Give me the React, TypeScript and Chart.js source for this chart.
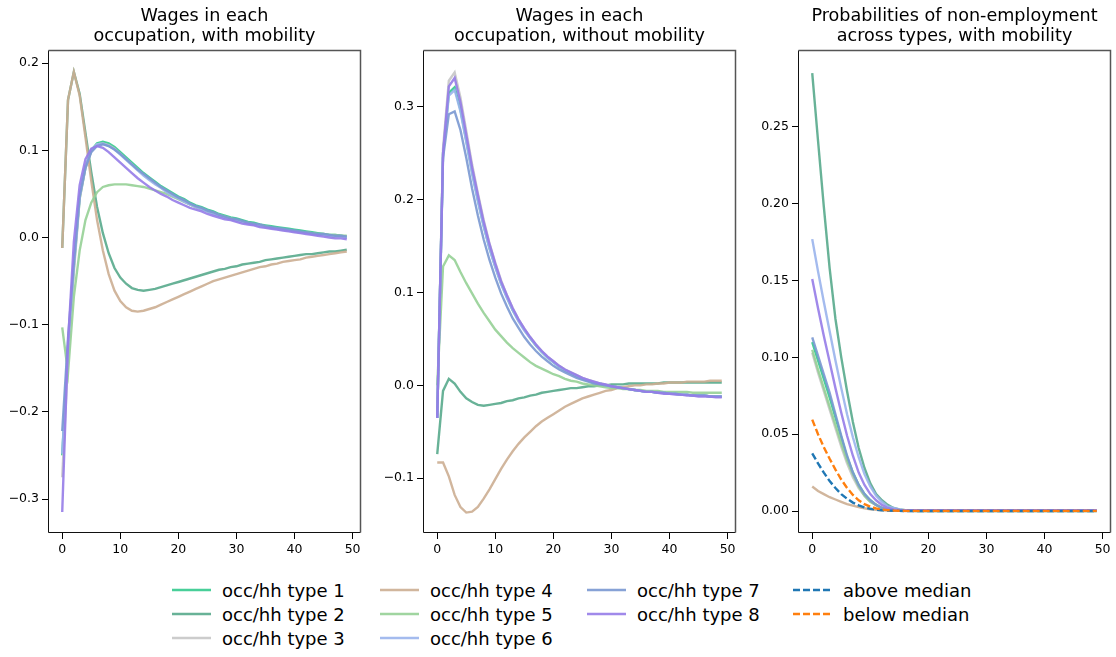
import React, { useEffect, useRef } from 'react';
import { Chart, registerables } from 'chart.js';

Chart.register(...registerables);

const FONT = "'DejaVu Sans', 'Liberation Sans', sans-serif";

const STEPS = [
  0, 1, 2, 3, 4, 5, 6, 7, 8, 9,
  10, 11, 12, 13, 14, 15, 16, 17, 18, 19,
  20, 21, 22, 23, 24, 25, 26, 27, 28, 29,
  30, 31, 32, 33, 34, 35, 36, 37, 38, 39,
  40, 41, 42, 43, 44, 45, 46, 47, 48, 49,
];

const X_TICKS = [0, 10, 20, 30, 40, 50];
const Y_TICKS_1 = [-0.3, -0.2, -0.1, 0.0, 0.1, 0.2];
const Y_TICKS_2 = [-0.1, 0.0, 0.1, 0.2, 0.3];
const Y_TICKS_3 = [0.0, 0.05, 0.1, 0.15, 0.2, 0.25];

const TITLE_1 = ['Wages in each', 'occupation, with mobility'];
const TITLE_2 = ['Wages in each', 'occupation, without mobility'];
const TITLE_3 = ['Probabilities of non-employment', 'across types, with mobility'];

const TYPE_LABELS = [
  'occ/hh type 1', 'occ/hh type 2', 'occ/hh type 3', 'occ/hh type 4',
  'occ/hh type 5', 'occ/hh type 6', 'occ/hh type 7', 'occ/hh type 8',
];
const MEDIAN_LABELS = ['above median', 'below median'];

const TYPE_COLORS = [
  'rgba(52,202,142,0.9)',
  'rgba(88,170,140,0.9)',
  'rgba(198,198,198,0.9)',
  'rgba(204,174,146,0.9)',
  'rgba(150,208,150,0.9)',
  'rgba(154,180,236,0.9)',
  'rgba(122,152,210,0.9)',
  'rgba(150,124,232,0.9)',
];
const MEDIAN_COLORS = ['#1f77b4', '#ff7f0e'];

// ---------- Panel 1: wages, with mobility ----------
const p1_t1 = [
  -0.250, -0.125, -0.035, 0.045, 0.080, 0.100, 0.108, 0.110, 0.108, 0.104,
  0.098, 0.092, 0.086, 0.080, 0.074, 0.069, 0.064, 0.059, 0.055, 0.051,
  0.047, 0.044, 0.040, 0.037, 0.035, 0.032, 0.030, 0.027, 0.025, 0.023,
  0.022, 0.020, 0.018, 0.017, 0.015, 0.014, 0.013, 0.012, 0.011, 0.010,
  0.009, 0.008, 0.007, 0.006, 0.005, 0.004, 0.003, 0.003, 0.002, 0.001,
];
const p1_t2 = [
  -0.012, 0.158, 0.190, 0.165, 0.120, 0.075, 0.035, 0.005, -0.018, -0.035,
  -0.046, -0.053, -0.058, -0.060, -0.061, -0.060, -0.059, -0.057, -0.055, -0.053,
  -0.051, -0.049, -0.047, -0.045, -0.043, -0.041, -0.039, -0.037, -0.036, -0.034,
  -0.033, -0.031, -0.030, -0.029, -0.028, -0.026, -0.025, -0.024, -0.023, -0.022,
  -0.021, -0.020, -0.019, -0.019, -0.018, -0.017, -0.016, -0.016, -0.015, -0.014,
];
const p1_t3 = [
  -0.275, -0.140, -0.040, 0.044, 0.080, 0.099, 0.107, 0.108, 0.106, 0.102,
  0.096, 0.090, 0.084, 0.078, 0.072, 0.067, 0.062, 0.057, 0.053, 0.049,
  0.045, 0.042, 0.038, 0.035, 0.033, 0.030, 0.028, 0.025, 0.023, 0.021,
  0.020, 0.018, 0.016, 0.015, 0.014, 0.012, 0.011, 0.010, 0.009, 0.008,
  0.007, 0.006, 0.005, 0.004, 0.003, 0.003, 0.002, 0.001, 0.001, 0.000,
];
const p1_t4 = [
  -0.012, 0.158, 0.190, 0.163, 0.115, 0.065, 0.020, -0.015, -0.042, -0.061,
  -0.073, -0.080, -0.084, -0.085, -0.084, -0.082, -0.080, -0.077, -0.074, -0.071,
  -0.068, -0.065, -0.062, -0.059, -0.056, -0.053, -0.050, -0.048, -0.046, -0.044,
  -0.042, -0.040, -0.038, -0.036, -0.034, -0.033, -0.031, -0.030, -0.028, -0.027,
  -0.026, -0.025, -0.023, -0.022, -0.021, -0.020, -0.019, -0.018, -0.017, -0.016,
];
const p1_t5 = [
  -0.103, -0.155, -0.068, -0.015, 0.020, 0.040, 0.052, 0.058, 0.060, 0.061,
  0.061, 0.061, 0.060, 0.059, 0.058, 0.056, 0.054, 0.052, 0.050, 0.047,
  0.044, 0.041, 0.038, 0.035, 0.033, 0.030, 0.028, 0.026, 0.024, 0.022,
  0.020, 0.018, 0.017, 0.015, 0.014, 0.013, 0.011, 0.010, 0.009, 0.008,
  0.007, 0.006, 0.006, 0.005, 0.004, 0.004, 0.003, 0.003, 0.002, 0.002,
];
const p1_t6 = [
  -0.248, -0.125, -0.032, 0.048, 0.082, 0.100, 0.107, 0.108, 0.105, 0.101,
  0.095, 0.089, 0.083, 0.077, 0.071, 0.066, 0.061, 0.057, 0.052, 0.048,
  0.045, 0.041, 0.038, 0.035, 0.032, 0.030, 0.027, 0.025, 0.023, 0.021,
  0.019, 0.018, 0.016, 0.015, 0.013, 0.012, 0.011, 0.010, 0.009, 0.008,
  0.007, 0.006, 0.005, 0.004, 0.003, 0.003, 0.002, 0.001, 0.001, 0.000,
];
const p1_t7 = [
  -0.222, -0.115, -0.030, 0.047, 0.080, 0.098, 0.105, 0.107, 0.105, 0.101,
  0.096, 0.090, 0.084, 0.078, 0.073, 0.068, 0.063, 0.058, 0.054, 0.050,
  0.046, 0.043, 0.039, 0.036, 0.034, 0.031, 0.029, 0.026, 0.024, 0.022,
  0.021, 0.019, 0.017, 0.016, 0.015, 0.013, 0.012, 0.011, 0.010, 0.009,
  0.008, 0.007, 0.006, 0.005, 0.004, 0.004, 0.003, 0.002, 0.002, 0.001,
];
const p1_t8 = [
  -0.315, -0.120, -0.005, 0.060, 0.090, 0.102, 0.105, 0.103, 0.098, 0.092,
  0.086, 0.080, 0.074, 0.068, 0.063, 0.058, 0.054, 0.050, 0.047, 0.043,
  0.040, 0.037, 0.034, 0.032, 0.030, 0.027, 0.025, 0.023, 0.021, 0.020,
  0.018, 0.016, 0.015, 0.014, 0.012, 0.011, 0.010, 0.009, 0.008, 0.007,
  0.006, 0.005, 0.004, 0.003, 0.002, 0.001, 0.000, -0.001, -0.001, -0.002,
];

// ---------- Panel 2: wages, without mobility ----------
const p2_t1 = [
  -0.035, 0.250, 0.315, 0.321, 0.297, 0.264, 0.230, 0.200, 0.172, 0.148,
  0.128, 0.110, 0.095, 0.081, 0.070, 0.060, 0.051, 0.043, 0.036, 0.030,
  0.025, 0.020, 0.016, 0.013, 0.010, 0.007, 0.005, 0.003, 0.002, 0.000,
  -0.001, -0.002, -0.003, -0.004, -0.005, -0.006, -0.007, -0.007, -0.008, -0.008,
  -0.009, -0.009, -0.010, -0.010, -0.011, -0.011, -0.011, -0.012, -0.012, -0.012,
];
const p2_t2 = [
  -0.074, -0.006, 0.007, 0.002, -0.007, -0.014, -0.018, -0.021, -0.022, -0.021,
  -0.020, -0.019, -0.017, -0.016, -0.014, -0.013, -0.011, -0.010, -0.008, -0.007,
  -0.006, -0.005, -0.004, -0.003, -0.003, -0.002, -0.001, -0.001, 0.000, 0.000,
  0.001, 0.001, 0.001, 0.002, 0.002, 0.002, 0.002, 0.002, 0.002, 0.003,
  0.003, 0.003, 0.003, 0.003, 0.003, 0.003, 0.003, 0.003, 0.003, 0.003,
];
const p2_t3 = [
  -0.035, 0.255, 0.328, 0.337, 0.310, 0.274, 0.238, 0.207, 0.178, 0.153,
  0.132, 0.113, 0.097, 0.083, 0.071, 0.061, 0.052, 0.044, 0.037, 0.031,
  0.026, 0.021, 0.017, 0.014, 0.011, 0.008, 0.006, 0.004, 0.002, 0.001,
  -0.001, -0.002, -0.003, -0.004, -0.005, -0.006, -0.007, -0.007, -0.008, -0.008,
  -0.009, -0.009, -0.010, -0.010, -0.011, -0.011, -0.011, -0.012, -0.012, -0.012,
];
const p2_t4 = [
  -0.083, -0.083, -0.098, -0.118, -0.131, -0.137, -0.136, -0.131, -0.122, -0.112,
  -0.101, -0.090, -0.080, -0.071, -0.063, -0.056, -0.050, -0.044, -0.039, -0.035,
  -0.031, -0.027, -0.023, -0.020, -0.017, -0.014, -0.012, -0.010, -0.008, -0.006,
  -0.005, -0.003, -0.002, -0.001, 0.000, 0.000, 0.001, 0.001, 0.002, 0.002,
  0.003, 0.003, 0.003, 0.004, 0.004, 0.004, 0.004, 0.005, 0.005, 0.005,
];
const p2_t5 = [
  0.000, 0.128, 0.140, 0.135, 0.122, 0.110, 0.099, 0.088, 0.078, 0.069,
  0.060, 0.053, 0.046, 0.040, 0.035, 0.030, 0.025, 0.021, 0.018, 0.015,
  0.012, 0.010, 0.007, 0.005, 0.004, 0.002, 0.001, 0.000, -0.001, -0.002,
  -0.003, -0.003, -0.004, -0.004, -0.005, -0.005, -0.006, -0.006, -0.006, -0.007,
  -0.007, -0.007, -0.007, -0.007, -0.008, -0.008, -0.008, -0.008, -0.008, -0.008,
];
const p2_t6 = [
  -0.035, 0.248, 0.312, 0.318, 0.295, 0.262, 0.228, 0.198, 0.171, 0.147,
  0.127, 0.109, 0.094, 0.081, 0.069, 0.059, 0.051, 0.043, 0.036, 0.030,
  0.025, 0.020, 0.016, 0.013, 0.010, 0.007, 0.005, 0.003, 0.002, 0.000,
  -0.001, -0.002, -0.003, -0.004, -0.005, -0.006, -0.007, -0.007, -0.008, -0.008,
  -0.009, -0.009, -0.010, -0.010, -0.011, -0.011, -0.011, -0.012, -0.012, -0.012,
];
const p2_t7 = [
  -0.035, 0.245, 0.292, 0.295, 0.275, 0.245, 0.212, 0.183, 0.157, 0.135,
  0.116, 0.099, 0.085, 0.072, 0.062, 0.052, 0.044, 0.037, 0.031, 0.026,
  0.021, 0.017, 0.014, 0.011, 0.008, 0.006, 0.004, 0.002, 0.001, 0.000,
  -0.001, -0.002, -0.003, -0.004, -0.005, -0.006, -0.007, -0.007, -0.008, -0.008,
  -0.009, -0.009, -0.010, -0.010, -0.011, -0.011, -0.011, -0.012, -0.012, -0.012,
];
const p2_t8 = [
  -0.035, 0.250, 0.322, 0.331, 0.305, 0.270, 0.235, 0.205, 0.176, 0.152,
  0.131, 0.112, 0.097, 0.083, 0.071, 0.061, 0.052, 0.044, 0.037, 0.031,
  0.026, 0.021, 0.017, 0.014, 0.011, 0.008, 0.006, 0.004, 0.002, 0.001,
  -0.001, -0.002, -0.003, -0.004, -0.005, -0.006, -0.007, -0.007, -0.008, -0.009,
  -0.009, -0.010, -0.010, -0.011, -0.011, -0.012, -0.012, -0.012, -0.013, -0.013,
];

// ---------- Panel 3: probabilities of non-employment ----------
const p3_t1 = [
  0.110, 0.098, 0.086, 0.074, 0.061, 0.048, 0.035, 0.025, 0.017, 0.011,
  0.007, 0.004, 0.002, 0.001, 0.001, 0.0005, 0.0003, 0.0002, 0.0001, 0.0001,
  0.0001, 0.0001, 0.0001, 0.0001, 0.0001, 0.0001, 0.0001, 0.0001, 0.0001, 0.0001,
  0.0001, 0.0001, 0.0001, 0.0001, 0.0001, 0.0001, 0.0001, 0.0001, 0.0001, 0.0001,
  0.0001, 0.0001, 0.0001, 0.0001, 0.0001, 0.0001, 0.0001, 0.0001, 0.0001, 0.0001,
];
const p3_t2 = [
  0.285, 0.241, 0.198, 0.158, 0.125, 0.100, 0.078, 0.058, 0.041, 0.028,
  0.018, 0.011, 0.007, 0.004, 0.002, 0.001, 0.0005, 0.0003, 0.0002, 0.0001,
  0.0001, 0.0001, 0.0001, 0.0001, 0.0001, 0.0001, 0.0001, 0.0001, 0.0001, 0.0001,
  0.0001, 0.0001, 0.0001, 0.0001, 0.0001, 0.0001, 0.0001, 0.0001, 0.0001, 0.0001,
  0.0001, 0.0001, 0.0001, 0.0001, 0.0001, 0.0001, 0.0001, 0.0001, 0.0001, 0.0001,
];
const p3_t3 = [
  0.103, 0.090, 0.078, 0.066, 0.054, 0.042, 0.031, 0.022, 0.015, 0.010,
  0.006, 0.004, 0.002, 0.001, 0.0005, 0.0003, 0.0002, 0.0001, 0.0, 0.0,
  0.0, 0.0, 0.0, 0.0, 0.0, 0.0, 0.0, 0.0, 0.0, 0.0,
  0.0, 0.0, 0.0, 0.0, 0.0, 0.0, 0.0, 0.0, 0.0, 0.0,
  0.0, 0.0, 0.0, 0.0, 0.0, 0.0, 0.0, 0.0, 0.0, 0.0,
];
const p3_t4 = [
  0.016, 0.013, 0.011, 0.009, 0.0075, 0.006, 0.0045, 0.0035, 0.0025, 0.0018,
  0.0012, 0.0008, 0.0005, 0.0003, 0.0002, 0.0001, 0.0, 0.0, 0.0, 0.0,
  0.0, 0.0, 0.0, 0.0, 0.0, 0.0, 0.0, 0.0, 0.0, 0.0,
  0.0, 0.0, 0.0, 0.0, 0.0, 0.0, 0.0, 0.0, 0.0, 0.0,
  0.0, 0.0, 0.0, 0.0, 0.0, 0.0, 0.0, 0.0, 0.0, 0.0,
];
const p3_t5 = [
  0.105, 0.092, 0.080, 0.068, 0.056, 0.044, 0.033, 0.024, 0.016, 0.010,
  0.006, 0.004, 0.002, 0.001, 0.0005, 0.0003, 0.0002, 0.0001, 0.0, 0.0,
  0.0, 0.0, 0.0, 0.0, 0.0, 0.0, 0.0, 0.0, 0.0, 0.0,
  0.0, 0.0, 0.0, 0.0, 0.0, 0.0, 0.0, 0.0, 0.0, 0.0,
  0.0, 0.0, 0.0, 0.0, 0.0, 0.0, 0.0, 0.0, 0.0, 0.0,
];
const p3_t6 = [
  0.177, 0.156, 0.136, 0.117, 0.098, 0.080, 0.063, 0.048, 0.035, 0.024,
  0.016, 0.010, 0.006, 0.003, 0.002, 0.001, 0.0006, 0.0005, 0.0004, 0.0004,
  0.0004, 0.0004, 0.0004, 0.0004, 0.0004, 0.0004, 0.0004, 0.0004, 0.0004, 0.0004,
  0.0004, 0.0004, 0.0004, 0.0004, 0.0004, 0.0004, 0.0004, 0.0004, 0.0004, 0.0004,
  0.0004, 0.0004, 0.0004, 0.0004, 0.0004, 0.0004, 0.0004, 0.0004, 0.0004, 0.0004,
];
const p3_t7 = [
  0.113, 0.101, 0.089, 0.077, 0.063, 0.049, 0.036, 0.025, 0.017, 0.011,
  0.007, 0.004, 0.002, 0.001, 0.0005, 0.0003, 0.0002, 0.0002, 0.0002, 0.0002,
  0.0002, 0.0002, 0.0002, 0.0002, 0.0002, 0.0002, 0.0002, 0.0002, 0.0002, 0.0002,
  0.0002, 0.0002, 0.0002, 0.0002, 0.0002, 0.0002, 0.0002, 0.0002, 0.0002, 0.0002,
  0.0002, 0.0002, 0.0002, 0.0002, 0.0002, 0.0002, 0.0002, 0.0002, 0.0002, 0.0002,
];
const p3_t8 = [
  0.151, 0.132, 0.114, 0.097, 0.080, 0.064, 0.049, 0.036, 0.025, 0.017,
  0.011, 0.007, 0.004, 0.002, 0.001, 0.0007, 0.0005, 0.0005, 0.0005, 0.0005,
  0.0005, 0.0005, 0.0005, 0.0005, 0.0005, 0.0005, 0.0005, 0.0005, 0.0005, 0.0005,
  0.0005, 0.0005, 0.0005, 0.0005, 0.0005, 0.0005, 0.0005, 0.0005, 0.0005, 0.0005,
  0.0005, 0.0005, 0.0005, 0.0005, 0.0005, 0.0005, 0.0005, 0.0005, 0.0005, 0.0005,
];
const p3_above = [
  0.0375, 0.031, 0.025, 0.0195, 0.015, 0.011, 0.008, 0.0055, 0.0037, 0.0024,
  0.0015, 0.0009, 0.0005, 0.0003, 0.0002, 0.0001, 0.0, 0.0, 0.0, 0.0,
  0.0, 0.0, 0.0, 0.0, 0.0, 0.0, 0.0, 0.0, 0.0, 0.0,
  0.0, 0.0, 0.0, 0.0, 0.0, 0.0, 0.0, 0.0, 0.0, 0.0,
  0.0, 0.0, 0.0, 0.0, 0.0, 0.0, 0.0, 0.0, 0.0, 0.0,
];
const p3_below = [
  0.0595, 0.050, 0.0415, 0.034, 0.027, 0.0205, 0.015, 0.0105, 0.007, 0.0045,
  0.0028, 0.0017, 0.001, 0.0006, 0.0003, 0.0002, 0.0001, 0.0001, 0.0001, 0.0001,
  0.0001, 0.0001, 0.0001, 0.0001, 0.0001, 0.0001, 0.0001, 0.0001, 0.0001, 0.0001,
  0.0001, 0.0001, 0.0001, 0.0001, 0.0001, 0.0001, 0.0001, 0.0001, 0.0001, 0.0001,
  0.0001, 0.0001, 0.0001, 0.0001, 0.0001, 0.0001, 0.0001, 0.0001, 0.0001, 0.0001,
];

type SeriesDef = { label: string; values: number[]; color: string; dashed?: boolean };

const typeSeries = (arrs: number[][]): SeriesDef[] =>
  arrs.map((values, i) => ({ label: TYPE_LABELS[i], values, color: TYPE_COLORS[i] }));

const PANEL_1 = typeSeries([p1_t1, p1_t2, p1_t3, p1_t4, p1_t5, p1_t6, p1_t7, p1_t8]);
const PANEL_2 = typeSeries([p2_t1, p2_t2, p2_t3, p2_t4, p2_t5, p2_t6, p2_t7, p2_t8]);
const PANEL_3: SeriesDef[] = [
  ...typeSeries([p3_t1, p3_t2, p3_t3, p3_t4, p3_t5, p3_t6, p3_t7, p3_t8]),
  { label: MEDIAN_LABELS[0], values: p3_above, color: MEDIAN_COLORS[0], dashed: true },
  { label: MEDIAN_LABELS[1], values: p3_below, color: MEDIAN_COLORS[1], dashed: true },
];

const framePlugin = {
  id: 'frame',
  afterDraw(chart: any) {
    const { ctx, chartArea } = chart;
    const l = Math.round(chartArea.left) + 0.5;
    const r = Math.round(chartArea.right) - 0.5;
    const t = Math.round(chartArea.top) + 0.5;
    const b = Math.round(chartArea.bottom) - 0.5;
    ctx.save();
    ctx.lineWidth = 1;
    ctx.strokeStyle = '#111';
    ctx.beginPath();
    ctx.moveTo(l, t);
    ctx.lineTo(l, b);
    ctx.lineTo(r, b);
    ctx.stroke();
    ctx.strokeStyle = '#555';
    ctx.lineWidth = 1.5;
    ctx.beginPath();
    ctx.moveTo(l, t);
    ctx.lineTo(r, t);
    ctx.lineTo(r, b);
    ctx.stroke();
    ctx.restore();
  },
};

const fmt = (v: number, d: number) => {
  const s = Math.abs(v) < 1e-9 ? (0).toFixed(d) : v.toFixed(d);
  return s.replace('-', '\u2212');
};

type PanelProps = {
  left: number;
  title: string[];
  series: SeriesDef[];
  yMin: number;
  yMax: number;
  yTicks: number[];
  decimals: number;
};

const CW = 365;
const CH = 560;

function Panel({ left, title, series, yMin, yMax, yTicks, decimals }: PanelProps) {
  const ref = useRef<HTMLCanvasElement | null>(null);
  useEffect(() => {
    if (!ref.current) return;
    const datasets = series.map((s, i) => ({
      label: s.label,
      data: s.values.map((v, k) => ({ x: STEPS[k], y: v })),
      borderColor: s.color,
      backgroundColor: s.color,
      borderWidth: 2.4,
      borderDash: s.dashed ? [7, 3] : [],
      pointRadius: 0,
      tension: 0,
      fill: false,
      order: 100 - i,
    }));
    const tickFont = { family: FONT, size: 12.5 };
    const chart = new Chart(ref.current, {
      type: 'line',
      data: { datasets },
      options: {
        responsive: false,
        animation: false,
        devicePixelRatio: 1,
        layout: { padding: { left: 0, right: 4, top: 0, bottom: 0 } },
        plugins: {
          legend: { display: false },
          tooltip: { enabled: false },
          title: {
            display: true,
            text: title,
            fullSize: false,
            color: '#000',
            font: { family: FONT, size: 17.6, weight: 'normal', lineHeight: 1.14 },
            padding: { top: 6, bottom: 4 },
          },
        },
        scales: {
          x: {
            type: 'linear',
            min: -2.45,
            max: 51.45,
            afterBuildTicks: (s: any) => {
              s.ticks = X_TICKS.map((v) => ({ value: v }));
            },
            afterFit: (s: any) => {
              s.height = 27;
            },
            ticks: {
              color: '#000',
              font: tickFont,
              padding: 3,
              maxRotation: 0,
              autoSkip: false,
              callback: (v: any) => String(v),
            },
            grid: { drawOnChartArea: false, drawTicks: true, tickLength: 6, color: '#000' },
            border: { display: false },
          },
          y: {
            type: 'linear',
            min: yMin,
            max: yMax,
            afterBuildTicks: (s: any) => {
              s.ticks = yTicks.map((v) => ({ value: v }));
            },
            afterFit: (s: any) => {
              s.width = 48;
            },
            ticks: {
              color: '#000',
              font: tickFont,
              padding: 3,
              autoSkip: false,
              callback: (v: any) => fmt(Number(v), decimals),
            },
            grid: { drawOnChartArea: false, drawTicks: true, tickLength: 6, color: '#000' },
            border: { display: false },
          },
        },
      } as any,
      plugins: [framePlugin],
    });
    return () => chart.destroy();
  }, []);
  return (
    <canvas
      ref={ref}
      width={CW}
      height={CH}
      style={{ position: 'absolute', left, top: 0, width: CW, height: CH }}
    />
  );
}

type LegendItem = { label: string; color: string; dashed?: boolean; col: number; row: number };

const LEGEND_COL_X = [172, 380, 587, 793];
const LEGEND_ROW_Y = [590, 614, 638];

const LEGEND_ITEMS: LegendItem[] = [
  ...TYPE_LABELS.map((label, i) => ({
    label,
    color: TYPE_COLORS[i],
    col: Math.floor(i / 3),
    row: i % 3,
  })),
  { label: MEDIAN_LABELS[0], color: MEDIAN_COLORS[0], dashed: true, col: 3, row: 0 },
  { label: MEDIAN_LABELS[1], color: MEDIAN_COLORS[1], dashed: true, col: 3, row: 1 },
];

function Legend() {
  return (
    <>
      {LEGEND_ITEMS.map((it) => (
        <div
          key={it.label}
          style={{
            position: 'absolute',
            left: LEGEND_COL_X[it.col],
            top: LEGEND_ROW_Y[it.row] - 12,
            height: 24,
            display: 'flex',
            alignItems: 'center',
            fontFamily: FONT,
            fontSize: 18,
            color: '#000',
            whiteSpace: 'nowrap',
          }}
        >
          <svg width={39} height={6} style={{ display: 'block' }}>
            <line
              x1={0}
              y1={3}
              x2={39}
              y2={3}
              stroke={it.color}
              strokeWidth={2.6}
              strokeDasharray={it.dashed ? '7 3' : undefined}
            />
          </svg>
          <span style={{ marginLeft: 11 }}>{it.label}</span>
        </div>
      ))}
    </>
  );
}

export default function App() {
  return (
    <div
      style={{
        position: 'absolute',
        left: 0,
        top: 0,
        width: 1116,
        height: 657,
        background: '#fff',
        overflow: 'hidden',
      }}
    >
      <Panel left={0} title={TITLE_1} series={PANEL_1} yMin={-0.339} yMax={0.215} yTicks={Y_TICKS_1} decimals={1} />
      <Panel left={375} title={TITLE_2} series={PANEL_2} yMin={-0.159} yMax={0.361} yTicks={Y_TICKS_2} decimals={1} />
      <Panel left={750} title={TITLE_3} series={PANEL_3} yMin={-0.0143} yMax={0.3} yTicks={Y_TICKS_3} decimals={2} />
      <Legend />
    </div>
  );
}
